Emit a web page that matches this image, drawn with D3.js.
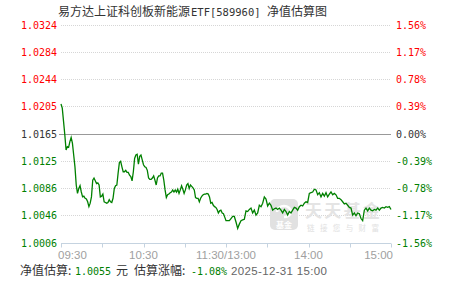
<!DOCTYPE html>
<html>
<head>
<meta charset="utf-8">
<script src="https://cdn.jsdelivr.net/npm/d3@7"></script>
<style>
  body { margin: 0; background: #fff; }
  svg { display: block; }
</style>
</head>
<body>
<svg width="451" height="281"></svg>
<script>
// readings, in % change vs. the previous NAV
const morningPct = [
  0.43, 0.37, 0.18, -0.01, -0.23, -0.18, -0.19, -0.11, -0.05, -0.13,
  -0.30, -0.47, -0.73, -0.85, -0.78, -0.74, -0.83, -0.90, -0.89, -0.92,
  -0.93, -0.97, -1.04, -0.99, -0.90, -0.66, -0.63, -0.67, -0.71, -0.70,
  -0.73, -0.90, -0.89, -0.86, -0.97, -0.98, -0.99, -0.98, -0.94, -0.97,
  -0.98, -0.92, -0.78, -0.74, -0.73, -0.56, -0.41, -0.39, -0.47, -0.54,
  -0.54, -0.52, -0.55, -0.55, -0.59, -0.61, -0.67, -0.54, -0.35, -0.30,
  -0.29, -0.43, -0.32, -0.30, -0.37, -0.44, -0.47, -0.48, -0.52, -0.63,
  -0.65, -0.65, -0.63, -0.60, -0.66, -0.73, -0.63, -0.60, -0.60, -0.56,
  -0.56, -0.66, -0.80, -0.91, -0.87, -0.86, -0.84, -0.83, -0.80, -0.83,
  -0.80, -0.83, -0.79, -0.85, -0.80, -0.74, -0.79, -0.85, -0.80, -0.73,
  -0.71, -0.78, -0.73, -0.75, -0.77, -0.80, -0.91, -0.92, -0.92, -0.97,
  -0.92, -0.89, -0.87, -0.86, -0.86, -0.85, -0.86, -0.90, -0.99, -0.98,
  -1.02, -1.04, -1.05, -1.08, -1.13, -1.10, -1.09, -1.13, -1.14, -1.19,
  -1.24
];
const afternoonPct = [
  -1.24, -1.24, -1.21,
  -1.18, -1.18, -1.26, -1.35, -1.29, -1.24, -1.23, -1.22, -1.10, -1.11,
  -1.08, -1.06, -1.13, -1.09, -1.16, -1.13, -1.02, -1.04, -0.99, -0.90,
  -0.93, -1.03, -0.99, -1.02, -1.09, -1.07, -1.06, -1.08, -1.06, -1.09,
  -1.13, -1.08, -1.11, -1.16, -1.11, -1.13, -1.09, -1.05, -1.06, -1.09,
  -1.04, -1.02, -1.03, -0.99, -0.97, -0.98, -0.85, -0.84, -0.83, -0.79,
  -0.80, -0.87, -0.84, -0.90, -0.85, -0.89, -0.84, -0.90, -0.86, -0.83,
  -0.87, -0.85, -0.87, -0.92, -0.92, -0.94, -0.97, -1.00, -0.99, -1.02,
  -1.05, -1.06, -1.16, -1.13, -1.17, -1.13, -1.14, -1.21, -1.24, -1.09,
  -1.06, -1.10, -1.06, -1.09, -1.10, -1.08, -1.09, -1.06, -1.09, -1.06,
  -1.05, -1.06, -1.04, -1.05, -1.04, -1.08
];
const pctTicks = [1.56, 1.17, 0.78, 0.39, 0, -0.39, -0.78, -1.17, -1.56];
const navLabels = ['1.0324', '1.0284', '1.0244', '1.0205', '1.0165', '1.0125', '1.0086', '1.0046', '1.0006'];
const pctLabels = ['1.56%', '1.17%', '0.78%', '0.39%', '0.00%', '-0.39%', '-0.78%', '-1.17%', '-1.56%'];
const timeTicks = [0, 30, 60, 90, 120, 150, 180, 210, 240];
const timeLabels = [[0, '09:30'], [60, '10:30'], [120, '11:30/13:00'], [180, '14:00'], [240, '15:00']];

const titleParts = ['易方达上证科创板新能源', 'ETF[589960]', '净值估算图'];
const lastNav = '1.0055';
const lastPct = '-1.08%';
const lastTime = '2025-12-31 15:00';

const red = '#ff0000', green = '#008000', dark = '#333';
const mono = '"DejaVu Sans Mono", monospace';
const cjk = '"Noto Sans CJK SC", sans-serif';
const sans = '"Liberation Sans", Arial, sans-serif';

const svg = d3.select('svg');
const left = 61, right = 391;

const x = d3.scaleLinear().domain([0, 240]).range([left, right]);
const y = d3.scaleLinear().domain([-1.56, 1.56]).range([243, 25]);

function colorOf(p) { return p > 0 ? red : (p < 0 ? green : dark); }

// title
const t = svg.append('text').attr('y', 16).attr('fill', dark).attr('font-size', 12);
t.append('tspan').attr('x', 58).attr('font-family', cjk).text(titleParts[0]);
t.append('tspan').attr('x', 191).attr('font-family', mono).attr('font-size', 10.5).text(titleParts[1]);
t.append('tspan').attr('x', 267).attr('font-family', cjk).text(titleParts[2]);

// grid
pctTicks.forEach((p, i) => {
  const yy = Math.floor(y(p)) + 0.5;
  if (p === 0) {
    svg.append('line').attr('x1', 59).attr('x2', right).attr('y1', yy).attr('y2', yy)
      .attr('stroke', '#999').attr('stroke-width', 1);
  } else if (i < pctTicks.length - 1) {
    svg.append('line').attr('x1', left).attr('x2', right).attr('y1', yy).attr('y2', yy)
      .attr('stroke', '#d6d6d6').attr('stroke-width', 1).attr('stroke-dasharray', '1,1');
  }
  svg.append('text')
    .attr('x', 57).attr('y', yy + 3.5).attr('text-anchor', 'end')
    .attr('font-family', mono).attr('font-size', 10).attr('fill', colorOf(p))
    .text(navLabels[i]);
  svg.append('text')
    .attr('x', 396).attr('y', yy + 3.5)
    .attr('font-family', mono).attr('font-size', 10).attr('fill', colorOf(p))
    .text(pctLabels[i]);
});

// bottom axis
const axisY = Math.floor(y(-1.56)) + 0.5;
svg.append('line').attr('x1', left).attr('x2', right).attr('y1', axisY).attr('y2', axisY)
  .attr('stroke', '#c5d3e0');
timeTicks.forEach((tk) => {
  const xx = Math.round(x(tk)) + 0.5;
  svg.append('line').attr('x1', xx).attr('x2', xx).attr('y1', axisY).attr('y2', axisY + 4)
    .attr('stroke', '#c5d3e0');
});
timeLabels.forEach(([tk, s], i) => {
  const last = i === timeLabels.length - 1;
  svg.append('text')
    .attr('x', i === 0 ? x(tk) - 3 : (last ? x(tk) + 2 : x(tk)))
    .attr('y', 259)
    .attr('text-anchor', i === 0 ? 'start' : (last ? 'end' : 'middle'))
    .attr('font-family', sans).attr('font-size', 11.5)
    .attr('fill', '#a0a0a0')
    .text(s);
});

// watermark
const wm = svg.append('g');
wm.append('rect').attr('x', 270).attr('y', 199).attr('width', 28).attr('height', 31).attr('rx', 5)
  .attr('fill', '#e1e1e1');
wm.append('path').attr('d', 'M277,212 a7,6 0 1,1 14,0 a7,6 0 0,1 -7,5')
  .attr('fill', 'none').attr('stroke', '#fff').attr('stroke-width', 2.5);
wm.append('text').attr('x', 284).attr('y', 228).attr('text-anchor', 'middle')
  .attr('font-family', cjk).attr('font-size', 8).attr('font-weight', 'bold').attr('fill', '#fff')
  .text('基金');
wm.append('text').attr('x', 305).attr('y', 217).attr('textLength', 75)
  .attr('font-family', cjk).attr('font-size', 17).attr('font-weight', 'bold').attr('fill', '#e4e4e4')
  .text('天天基金');
wm.append('text').attr('x', 307).attr('y', 231).attr('textLength', 72)
  .attr('font-family', cjk).attr('font-size', 7.5).attr('fill', '#e1e1e1')
  .text('链接您与财富');

// line
const pts = morningPct.map((v, i) => ({t: i * 120 / (morningPct.length - 1), v}))
  .concat(afternoonPct.map((v, i) => ({t: 120 + (i + 1) * 120 / afternoonPct.length, v})));
svg.append('path')
  .datum(pts)
  .attr('fill', 'none')
  .attr('stroke', green)
  .attr('stroke-width', 1.3)
  .attr('d', d3.line().x((d) => x(d.t)).y((d) => y(d.v)));

// footer
const foot = svg.append('text').attr('y', 275).attr('font-size', 12);
foot.append('tspan').attr('x', 20).attr('font-family', cjk).attr('fill', dark).text('净值估算:');
foot.append('tspan').attr('x', 75).attr('font-family', mono).attr('font-size', 10).attr('fill', green).text(lastNav);
foot.append('tspan').attr('x', 116).attr('font-family', cjk).attr('fill', dark).text('元');
foot.append('tspan').attr('x', 134).attr('font-family', cjk).attr('fill', dark).text('估算涨幅:');
foot.append('tspan').attr('x', 191).attr('font-family', mono).attr('font-size', 10).attr('fill', green).text(lastPct);
foot.append('tspan').attr('x', 231).attr('font-family', sans).attr('font-size', 11.5)
  .attr('textLength', 96).attr('fill', '#666').text(lastTime);
</script>
</body>
</html>
